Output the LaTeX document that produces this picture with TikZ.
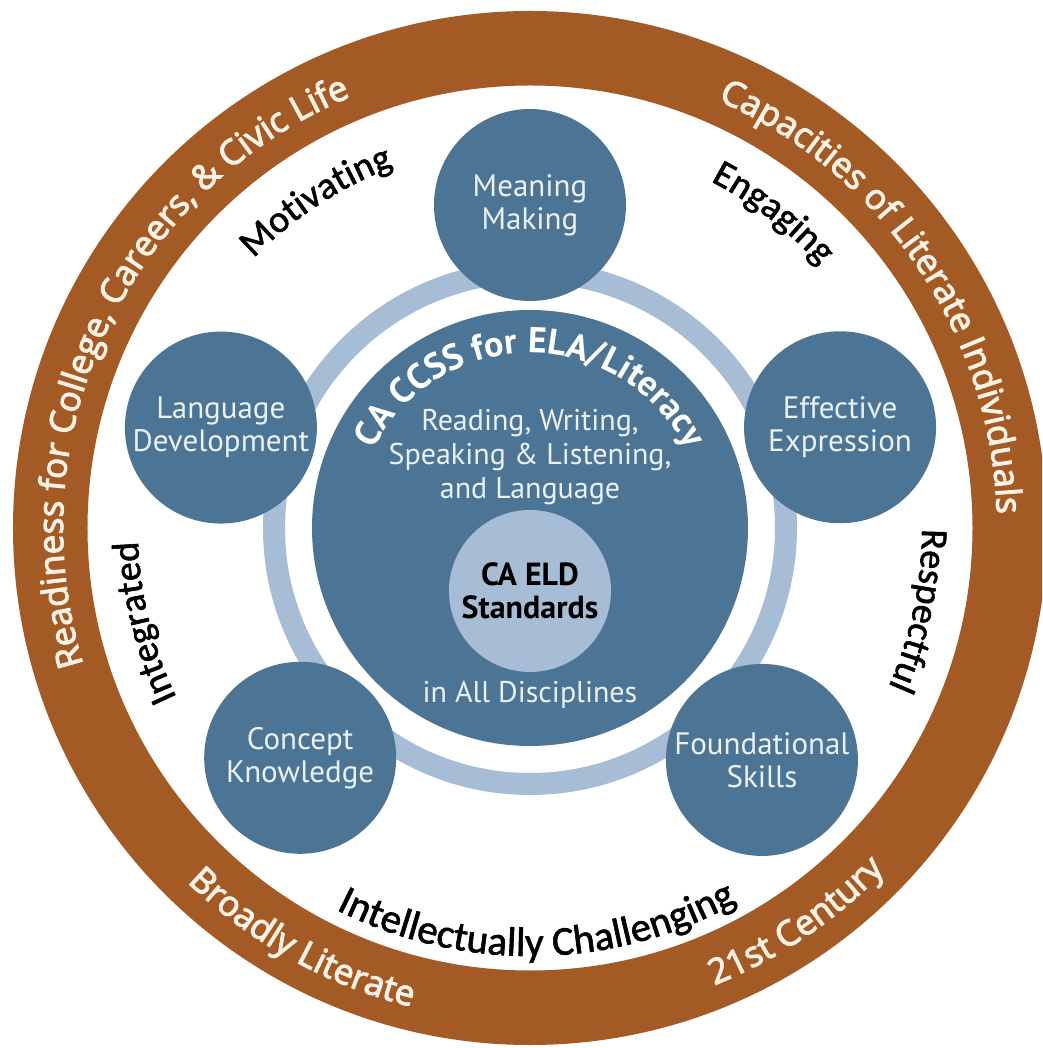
\documentclass[tikz,border=0pt]{standalone}
\usepackage{fontspec}
\usetikzlibrary{decorations.text}
\newfontfamily\bubblefont{PT Sans}
\newfontfamily\ringfont[FakeBold=3]{Open Sans}
\newfontfamily\labelfont[FakeBold=1.5]{Carlito}
\definecolor{ringbrown}{RGB}{163,90,36}
\definecolor{deepblue}{RGB}{76,116,148}
\definecolor{paleblue}{RGB}{166,189,213}
\definecolor{cream}{RGB}{252,241,228}
\definecolor{bubbletext}{RGB}{234,241,247}
\newcommand{\bubblesize}{\bubblefont\fontsize{31}{33}\selectfont}
\newcommand{\coresize}{\bubblefont\fontsize{30}{34}\selectfont}
\newcommand{\qualityfont}{\labelfont\fontsize{38}{38}\selectfont}
\newcommand{\widequalityfont}{\labelfont\fontsize{41}{41}\selectfont}
\newcommand{\ringtext}{\ringfont\fontsize{35}{35}\selectfont}
\newcommand{\titletext}{\bubblefont\bfseries\fontsize{36}{36}\selectfont}
\tikzset{
    bubble/.style = {circle,
                    fill=deepblue,
                    text=bubbletext,
                    align=center,
                    inner sep=0pt,
                    minimum size=192pt,
                    font=\bubblesize},
    core/.style =   {circle,
                    fill=deepblue,
                    inner sep=0pt,
                    minimum size=436pt},
    eld/.style =    {circle,
                    fill=paleblue,
                    text=black,
                    align=center,
                    inner sep=0pt,
                    minimum size=162pt,
                    font=\bubblefont\bfseries\fontsize{32}{33}\selectfont},
    coretext/.style = {text=bubbletext,
                    align=center,
                    font=\coresize},
    link/.style =   {draw=paleblue,
                    line width=22pt}
}
\begin{document}
\begin{tikzpicture}[x=1pt,y=1pt]
    \clip (-530,-520) rectangle (512,528);
    \fill[white] (-530,-520) rectangle (512,528);
    % outer ring
    \fill[ringbrown, even odd rule] (0,0) circle (517pt) (0,0) circle (442.5pt);
    \path[decorate, decoration={text along path, text align=center, text color=cream,
        text={|\ringtext|Readiness for College, Careers, {\&} Civic Life}}]
        (244.8:467) arc[start angle=244.8, end angle=64.8, radius=467pt];
    \path[decorate, decoration={text along path, text align=center, text color=cream,
        text={|\ringtext|Capacities of Literate Individuals}}]
        (124:467) arc[start angle=124, end angle=-56, radius=467pt];
    \path[decorate, decoration={text along path, text align=center, text color=cream,
        text={|\ringtext|Broadly Literate}}]
        (181:493) arc[start angle=181, end angle=301, radius=493pt];
    \path[decorate, decoration={text along path, text align=center, text color=cream,
        text={|\ringtext|21st Century}}]
        (244:493) arc[start angle=244, end angle=364, radius=493pt];
    % qualities
    \path[decorate, decoration={text along path, text align=center,
        text={|\qualityfont|Motivating}}]
        (183.2:386) arc[start angle=183.2, end angle=63.2, radius=386pt];
    \path[decorate, decoration={text along path, text align=center,
        text={|\qualityfont|Engaging}}]
        (112.3:391) arc[start angle=112.3, end angle=-7.7, radius=391pt];
    \path[decorate, decoration={text along path, text align=center,
        text={|\qualityfont|Integrated}}]
        (253.8:392) arc[start angle=253.8, end angle=133.8, radius=392pt];
    \path[decorate, decoration={text along path, text align=center,
        text={|\qualityfont|Respectful}}]
        (48:392) arc[start angle=48, end angle=-72, radius=392pt];
    \path[decorate, decoration={text along path, text align=center,
        text={|\widequalityfont|Intellectually Challenging}}]
        (211:428) arc[start angle=211, end angle=331, radius=428pt];
    % core
    \node[core] (ccss) at (0,0) {};
    \draw[link] (ccss.center) circle (256pt);
    \node[eld] (eld) at (0,-63) {CA ELD\\Standards};
    \node[coretext] (skills) at (0,71) {Reading, Writing,\\Speaking \& Listening,\\and Language};
    \node[coretext] (disciplines) at (0,-167) {in All Disciplines};
    \path[decorate, decoration={text along path, text align=center, text color=white,
        text={|\titletext|CA CCSS for ELA/Literacy}}]
        (190:175) arc[start angle=190, end angle=-10, radius=175pt];
    % bubbles
    \node[bubble] (meaning)    at (90:323)  {Meaning\\Making};
    \node[bubble] (expression) at (18:326)  {Effective\\Expression};
    \node[bubble] (language)   at (162:325) {Language\\Development};
    \node[bubble] (concept)    at (225:325) {Concept\\Knowledge};
    \node[bubble] (foundation) at (315:328) {Foundational\\Skills};
\end{tikzpicture}
\end{document}
